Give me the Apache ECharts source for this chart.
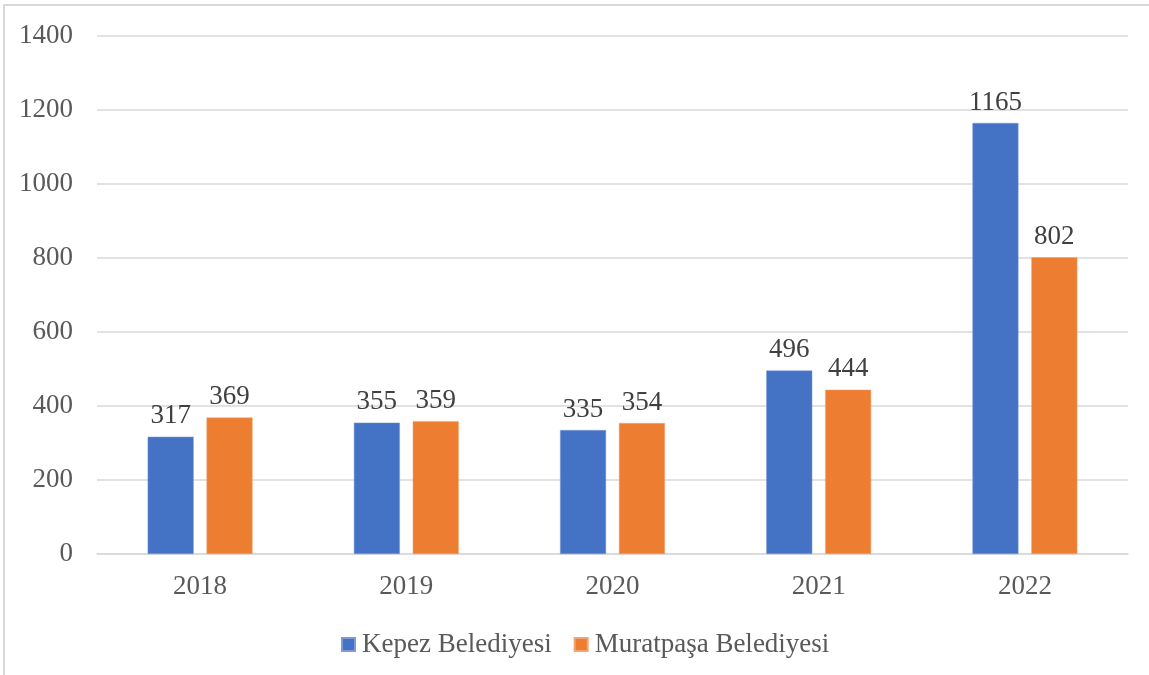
<!DOCTYPE html>
<html>
<head>
<meta charset="utf-8">
<script src="https://cdn.jsdelivr.net/npm/echarts@6/dist/echarts.min.js"></script>
<style>
html, body { margin: 0; padding: 0; background: #fff; }
#chart { width: 1149px; height: 675px; }
</style>
</head>
<body>
<div id="chart"></div>
<script>
// kategoriler ve seriler
const years = ['2018', '2019', '2020', '2021', '2022'];
const kepez = [317, 355, 335, 496, 1165];
const muratpasa = [369, 359, 354, 444, 802];
const seriesNames = ['Kepez Belediyesi', 'Muratpaşa Belediyesi'];

const chart = echarts.init(document.getElementById('chart'));
const font = '"Liberation Serif", "DejaVu Serif", serif';

const labelStyle = {
	show: true,
	position: 'top',
	distance: 7,
	color: '#404040',
	fontFamily: font,
	fontSize: 27
};

const option = {
	backgroundColor: '#fff',
	animation: false,
	graphic: [{
		type: 'rect',
		shape: { x: 4, y: 5, width: 1170, height: 700 },
		style: { fill: 'none', stroke: '#d9d9d9', lineWidth: 2 },
		silent: true
	}],
	legend: {
		left: 336,
		top: 626,
		itemWidth: 13,
		itemHeight: 13,
		itemGap: 22,
		icon: 'rect',
		textStyle: { color: '#595959', fontFamily: font, fontSize: 27, padding: [0, 0, 0, 2] },
		data: seriesNames
	},
	grid: { left: 97, right: 21, top: 36, bottom: 121 },
	xAxis: {
		type: 'category',
		data: years,
		axisTick: { show: false },
		axisLine: { lineStyle: { color: '#d9d9d9', width: 1.5 } },
		axisLabel: { color: '#595959', fontFamily: font, fontSize: 27, margin: 19 }
	},
	yAxis: {
		type: 'value',
		min: 0,
		max: 1400,
		interval: 200,
		axisLine: { show: false },
		axisTick: { show: false },
		axisLabel: { color: '#595959', fontFamily: font, fontSize: 27, margin: 24, formatter: v => String(v) },
		splitLine: { lineStyle: { color: '#d9d9d9', width: 1.5 } }
	},
	series: [
		{
			name: seriesNames[0],
			type: 'bar',
			data: kepez,
			barWidth: 46,
			barGap: '28%',
			itemStyle: { color: '#4472C4', borderColor: '#7f9ad6', borderWidth: 0.5 },
			label: labelStyle
		},
		{
			name: seriesNames[1],
			type: 'bar',
			data: muratpasa,
			barWidth: 46,
			itemStyle: { color: '#ED7D31', borderColor: '#f3a470', borderWidth: 0.5 },
			label: labelStyle
		}
	]
};

chart.setOption(option);
</script>
</body>
</html>
